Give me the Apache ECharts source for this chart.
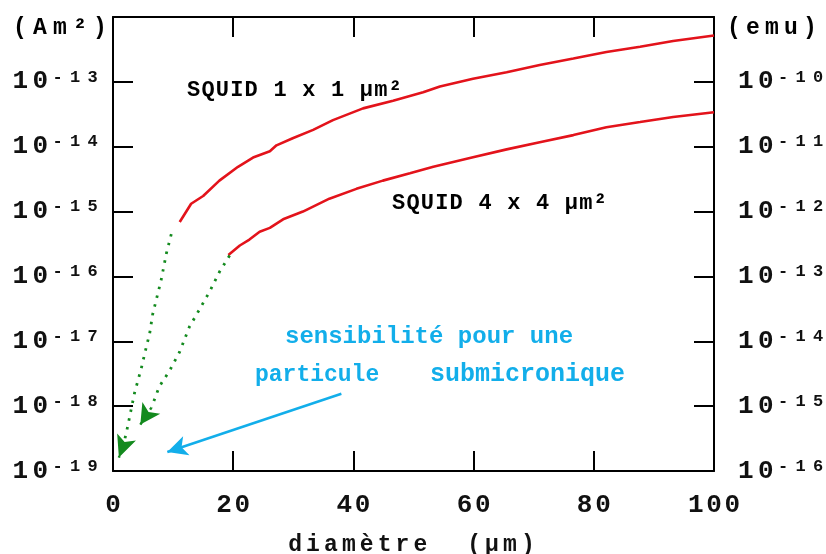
<!DOCTYPE html>
<html>
<head>
<meta charset="utf-8">
<script src="https://cdn.jsdelivr.net/npm/echarts@6/dist/echarts.min.js"></script>
<style>html,body{margin:0;padding:0;background:#fff}#c{width:826px;height:554px}</style>
</head>
<body>
<div id="c"></div>
<script>
// ---- data ----
const diam1x1 = [11.1, 13.0, 15.0, 17.7, 20.8, 23.3, 26.1, 27.2, 29.9, 33.3, 36.6, 41.6, 46.6, 51.6, 54.4, 59.9, 65.5, 71.0, 76.6, 82.1, 87.7, 93.2, 100];
const moment1x1 = [6.9e-16, 1.32e-15, 1.74e-15, 3.0e-15, 4.9e-15, 6.8e-15, 8.5e-15, 1.05e-14, 1.35e-14, 1.82e-14, 2.57e-14, 3.9e-14, 5.1e-14, 6.9e-14, 8.5e-14, 1.12e-13, 1.41e-13, 1.82e-13, 2.29e-13, 2.88e-13, 3.47e-13, 4.27e-13, 5.2e-13];
const diam4x4 = [19.2, 21.1, 22.7, 24.4, 26.1, 28.3, 31.6, 36.0, 40.5, 44.9, 49.4, 53.3, 59.9, 65.5, 71.0, 76.6, 82.1, 87.7, 93.2, 100];
const moment4x4 = [2.14e-16, 3.0e-16, 3.7e-16, 4.9e-16, 5.6e-16, 7.6e-16, 1.0e-15, 1.58e-15, 2.24e-15, 3.0e-15, 3.9e-15, 4.9e-15, 6.9e-15, 9.1e-15, 1.17e-14, 1.51e-14, 2.0e-14, 2.4e-14, 2.88e-14, 3.4e-14];
// dotted extrapolations (green)
const extrapDiam1 = [9.7, 8.9, 8.0, 6.6, 6.1, 5.4, 4.7, 3.6, 3.0, 2.2, 1.6];
const extrapVal1 = [4.5e-16, 2.3e-16, 8.7e-17, 2.6e-17, 1.32e-17, 7.2e-18, 3.8e-18, 1.62e-18, 8.7e-19, 3.8e-19, 2.3e-19];
const extrapHead1 = [0.98, 1.61e-19];
const extrapDiam2 = [19.4, 17.7, 16.1, 14.3, 12.7, 11.1, 9.4, 7.7, 6.4];
const extrapVal2 = [2.1e-16, 1.17e-16, 5.9e-17, 3.0e-17, 1.66e-17, 6.9e-18, 3.5e-18, 2.0e-18, 9.5e-19];
const extrapHead2 = [4.55, 5.2e-19];
// cyan pointer
const pointerFrom = [38.0, 1.55e-18];
const pointerTo = [9.04, 1.96e-19];
// axes
const leftRange = [1e-19, 1e-12];
const rightRange = [1e-16, 1e-9];
const labels = {
  unitLeft: '(Am²)', unitRight: '(emu)', xName: 'diamètre  (µm)',
  squid1: 'SQUID 1 x 1 µm²', squid4: 'SQUID 4 x 4 µm²',
  note1: 'sensibilité pour une', note2a: 'particule', note2b: 'submicronique'
};

// ---- helpers ----
const FONT = '"Liberation Mono", "DejaVu Sans Mono", monospace';
const RED = '#e3131b', GREEN = '#138a1e', CYAN = '#12aeea';
function spaced(str, tok) { return Array.from(str).map(c => '{' + tok + '|' + c + '}').join(''); }
function pairs(xs, ys) { return xs.map((x, i) => [x, ys[i]]); }
const tickRich = {
  a: { fontFamily: FONT, fontWeight: 'bold', fontSize: 26, width: 20, align: 'left', lineHeight: 26, color: '#111' },
  s: { fontFamily: FONT, fontWeight: 'bold', fontSize: 17, width: 17.5, align: 'left', lineHeight: 16, verticalAlign: 'top', color: '#111' }
};
function powLabel(v, hideExp) {
  const e = Math.round(Math.log10(v));
  if (e === hideExp) return '';
  return spaced('10', 'a') + spaced(String(e), 's');
}
const bigRich = (w, size, color) => ({ c: { fontFamily: FONT, fontWeight: 'bold', fontSize: size, width: w, align: 'left', color: color || '#111' } });

const chart = echarts.init(document.getElementById('c'));
const axisLine = { show: true, onZero: false, lineStyle: { color: '#000', width: 2 } };
const axisTick = { show: true, inside: true, length: 20, lineStyle: { color: '#000', width: 2 } };
const DOT = [2.5, 6.5];

const arrowLine = (from, to, color, type, size) => ({
  silent: true, animation: false,
  label: { show: false },
  symbol: ['none', 'arrow'], symbolSize: size,
  lineStyle: { color: color, type: type, width: 2.5, opacity: 1 },
  itemStyle: { color: color },
  emphasis: { disabled: true },
  data: [[{ coord: from }, { coord: to }]]
});

chart.setOption({
  animation: false,
  backgroundColor: '#fff',
  grid: { left: 113, right: 112, top: 17, bottom: 83, outerBoundsMode: 'none', containLabel: false },
  xAxis: [{
    type: 'value', min: 0, max: 100, interval: 20, position: 'bottom',
    axisLine, axisTick, splitLine: { show: false },
    axisLabel: { margin: 21, formatter: v => spaced(String(v), 'd'),
      rich: { d: { fontFamily: FONT, fontWeight: 'bold', fontSize: 26, width: 18.3, align: 'center', color: '#111' } } },
    name: spaced(labels.xName, 'c'), nameLocation: 'middle', nameGap: 63,
    nameTextStyle: { rich: bigRich(17.9, 23) }
  }, {
    type: 'value', min: 0, max: 100, interval: 20, position: 'top',
    axisLine, axisTick, splitLine: { show: false }, axisLabel: { show: false }
  }],
  yAxis: [{
    type: 'log', logBase: 10, min: leftRange[0], max: leftRange[1], splitNumber: 7, position: 'left',
    axisLine, axisTick, splitLine: { show: false }, minorTick: { show: false },
    axisLabel: { margin: 8, formatter: v => powLabel(v, -12), rich: tickRich }
  }, {
    type: 'log', logBase: 10, min: rightRange[0], max: rightRange[1], splitNumber: 7, position: 'right',
    axisLine, axisTick, splitLine: { show: false }, minorTick: { show: false },
    axisLabel: { margin: 24, formatter: v => powLabel(v, -9), rich: tickRich }
  }],
  series: [{
    name: labels.squid1, type: 'line', data: pairs(diam1x1, moment1x1), showSymbol: false, symbol: 'none',
    lineStyle: { color: RED, width: 2.6 }, z: 3,
    markLine: arrowLine(pointerFrom, pointerTo, CYAN, 'solid', [15, 20])
  }, {
    name: labels.squid4, type: 'line', data: pairs(diam4x4, moment4x4), showSymbol: false, symbol: 'none',
    lineStyle: { color: RED, width: 2.6 }, z: 3
  }, {
    name: 'extrap1', type: 'line', data: pairs(extrapDiam1, extrapVal1), showSymbol: false, symbol: 'none',
    lineStyle: { color: GREEN, width: 2.8, type: DOT },
    markLine: arrowLine(pairs(extrapDiam1, extrapVal1).slice(-1)[0], extrapHead1, GREEN, DOT, [15, 22])
  }, {
    name: 'extrap2', type: 'line', data: pairs(extrapDiam2, extrapVal2), showSymbol: false, symbol: 'none',
    lineStyle: { color: GREEN, width: 2.8, type: DOT },
    markLine: arrowLine(pairs(extrapDiam2, extrapVal2).slice(-1)[0], extrapHead2, GREEN, DOT, [16, 20])
  }],
  graphic: [
    { type: 'text', silent: true, style: { text: spaced(labels.unitLeft, 'c'), rich: bigRich(20, 23), x: 13, y: 28, verticalAlign: 'middle' } },
    { type: 'text', silent: true, style: { text: spaced(labels.unitRight, 'c'), rich: bigRich(19, 23), x: 727, y: 28, verticalAlign: 'middle' } },
    { type: 'text', silent: true, style: { text: spaced(labels.squid1, 'c'), rich: bigRich(14.4, 22), x: 187, y: 90, verticalAlign: 'middle' } },
    { type: 'text', silent: true, style: { text: spaced(labels.squid4, 'c'), rich: bigRich(14.4, 22), x: 392, y: 203, verticalAlign: 'middle' } },
    { type: 'text', silent: true, style: { text: labels.note1, font: 'bold 24px ' + FONT, fill: CYAN, x: 285, y: 337, verticalAlign: 'middle' } },
    { type: 'text', silent: true, style: { text: labels.note2a, font: 'bold 23px ' + FONT, fill: CYAN, x: 255, y: 375, verticalAlign: 'middle' } },
    { type: 'text', silent: true, style: { text: labels.note2b, font: 'bold 25px ' + FONT, fill: CYAN, x: 430, y: 375, verticalAlign: 'middle' } }
  ]
});
</script>
</body>
</html>
